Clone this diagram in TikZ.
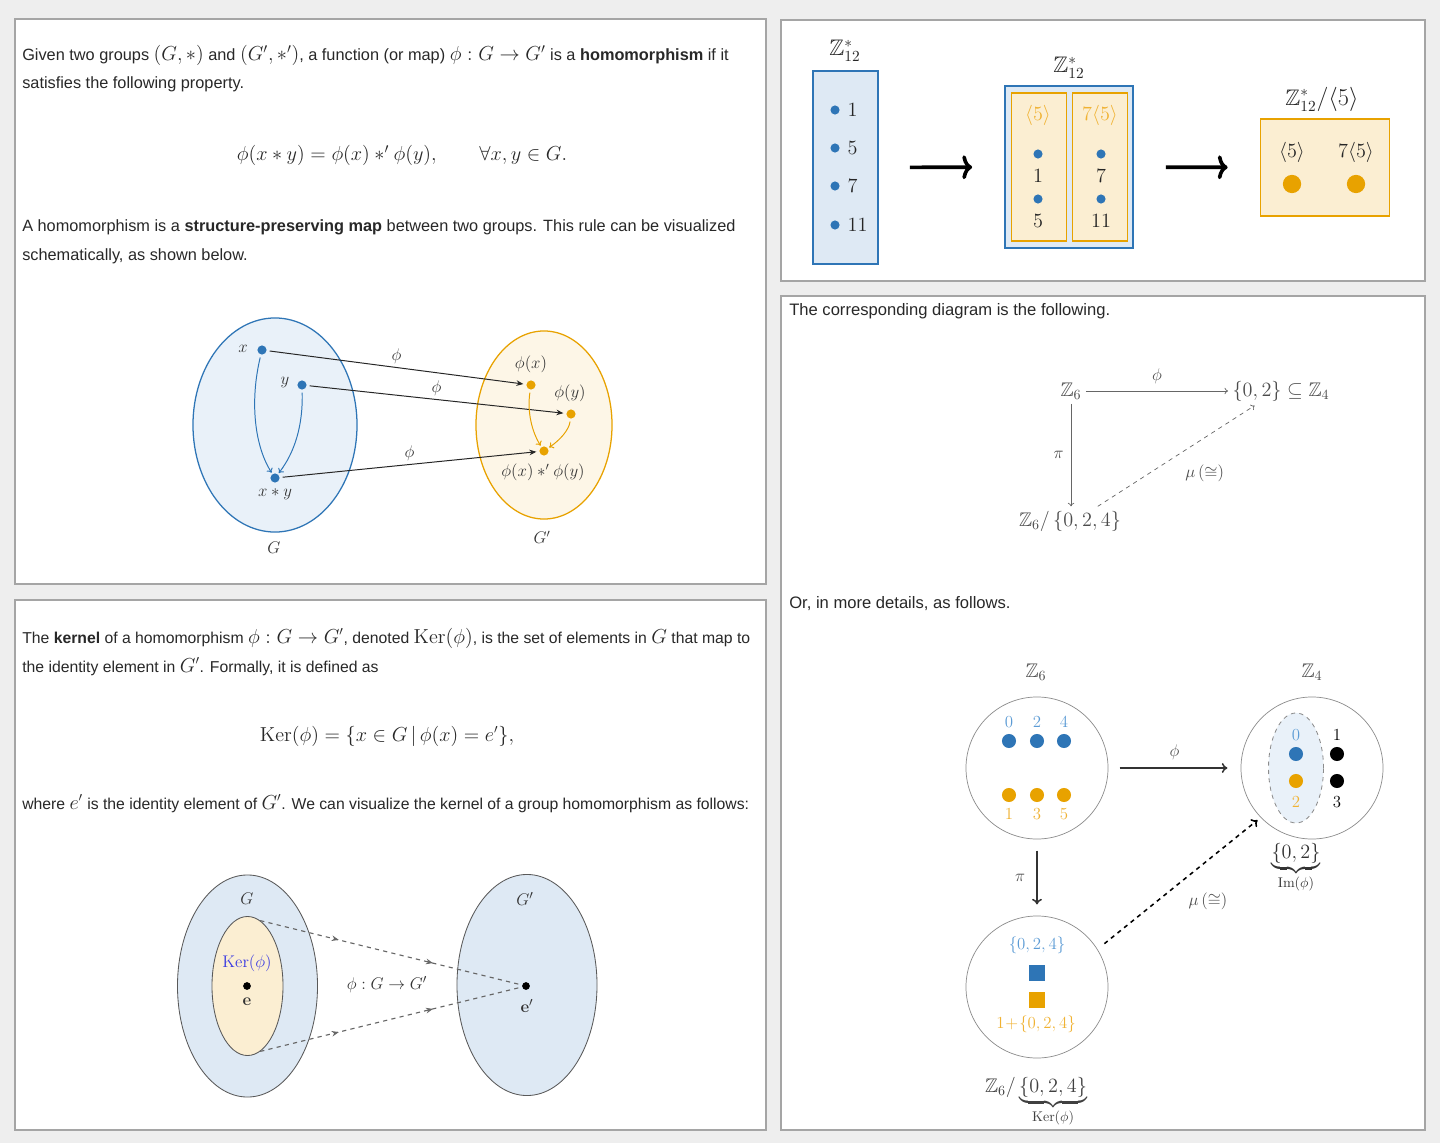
\documentclass[tikz,border=0pt]{standalone}
\usepackage{amsmath,amssymb}
\usepackage[no-math]{fontspec}
\setmainfont{Liberation Sans}
\usetikzlibrary{shapes.geometric, positioning, arrows.meta, calc, decorations.markings}

\definecolor{pageGray}{RGB}{238,238,238}
\definecolor{frameGray}{RGB}{165,165,165}
\definecolor{textGray}{RGB}{40,40,40}
\definecolor{grpBlue}{RGB}{46,117,182}
\definecolor{grpOrange}{RGB}{232,162,0}
\definecolor{lblBlue}{RGB}{91,155,213}
\definecolor{lblOrange}{RGB}{240,178,50}
\definecolor{fillBlue}{RGB}{222,233,244}
\definecolor{fillBlueLight}{RGB}{233,241,249}
\definecolor{fillOrange}{RGB}{251,238,210}
\definecolor{fillOrangeLight}{RGB}{253,246,231}
\definecolor{kerBlue}{RGB}{60,60,225}

% inline math a bit larger than the text, as on the page
\newcommand{\inmath}[1]{{\fontsize{13.8}{16}\selectfont$#1$}}
\newcommand{\inmathsm}[1]{{\fontsize{13.3}{16}\selectfont$#1$}}

\begin{document}
\begin{tikzpicture}[
        x=0.025cm, y=-0.025cm,
        panel/.style={draw=frameGray, line width=1pt, fill=white},
        txt/.style={anchor=base west, inner sep=0pt, text=textGray, font=\fontsize{11.6}{14}\selectfont},
        txtsm/.style={txt, font=\fontsize{11.2}{14}\selectfont},
        eqn/.style={anchor=base, inner sep=0pt, text=textGray, font=\fontsize{14}{16}\selectfont},
        lbl/.style={inner sep=1pt, text=black!80, font=\fontsize{11.5}{14}\selectfont},
        num/.style={inner sep=1pt, text=black!85, font=\fontsize{15}{18}\selectfont},
        cdtxt/.style={inner sep=3pt, text=black!70, font=\fontsize{14}{16}\selectfont},
        digit/.style={inner sep=2pt, font=\fontsize{12}{14}\selectfont},
        cdlbl/.style={inner sep=2pt, text=black!70, font=\fontsize{12.5}{14}\selectfont},
        element/.style={circle, fill=grpBlue, inner sep=0pt, minimum size=6.5pt},
        image/.style={circle, fill=grpOrange, inner sep=0pt, minimum size=6.5pt},
        blackdot/.style={circle, fill=black, inner sep=0pt, minimum size=5.5pt},
        group/.style={draw=black!45, line width=0.5pt, circle, minimum size=3.55cm, inner sep=0pt},
        map/.style={-{Stealth[length=5pt,width=4pt]}, black!85, line width=0.7pt, shorten <=2pt, shorten >=2pt},
        bluemap/.style={-{To[length=3pt,width=5pt]}, grpBlue, line width=0.7pt, shorten <=2pt, shorten >=1pt},
        orangemap/.style={-{To[length=3pt,width=5pt]}, grpOrange, line width=0.7pt, shorten <=2pt, shorten >=1pt},
        bigmap/.style={-{To[length=7pt,width=17pt]}, line width=2.6pt},
        cdmap/.style={-{To[length=2.5pt,width=4.5pt]}, black!60, line width=0.5pt},
        kermap/.style={dashed, black!60, line width=0.8pt, postaction={decorate},
            decoration={markings,
                mark=at position 0.3 with {\arrow{Stealth[length=5pt,width=4pt]}},
                mark=at position 0.66 with {\arrow{Stealth[length=5pt,width=4pt]}}}}
    ]
        % Page and panels
        \useasboundingbox (0,0) rectangle (1440,1143);
        \fill[pageGray] (0,0) rectangle (1440,1143);
        \draw[panel] (15,19) rectangle (766,584);
        \draw[panel] (15,600) rectangle (766,1130);
        \draw[panel] (781,20) rectangle (1425,281);
        \draw[panel] (781,296) rectangle (1425,1130);

        % Panel 1: text
        \node[txt] (p1a) at (22,61) {Given two groups \inmath{(G,*)} and \inmath{(G',*')}, a function (or map) \inmath{\phi : G \to G'} is a \textbf{homomorphism} if it};
        \node[txt] (p1b) at (22,89) {satisfies the following property.};
        \node[eqn] (p1eq) at (402,161) {$\phi(x * y) = \phi(x) *' \phi(y), \qquad \forall x, y \in G.$};
        \node[txt] (p1c) at (22,232) {A homomorphism is a \textbf{structure-preserving map} between two groups. This rule can be visualized};
        \node[txt] (p1d) at (22,261) {schematically, as shown below.};

        % Panel 1: groups
        \node[draw=grpBlue, line width=0.9pt, fill=fillBlueLight, ellipse, minimum width=4.1cm, minimum height=5.35cm] (G) at (275,425) {};
        \node[draw=grpOrange, line width=0.9pt, fill=fillOrangeLight, ellipse, minimum width=3.4cm, minimum height=4.7cm] (Gp) at (544,425) {};
        \node[lbl] (Glbl) at (274,548) {$G$};
        \node[lbl] (Gplbl) at (542,537) {$G'$};

        \node[element] (x) at (262,350) {};
        \node[element] (y) at (302,385) {};
        \node[element] (xy) at (275,478) {};
        \node[image] (fx) at (531,385) {};
        \node[image] (fy) at (571,414) {};
        \node[image] (fxy) at (544,451) {};
        \node[lbl] (xlbl) at (243,349) {$x$};
        \node[lbl] (ylbl) at (285,383) {$y$};
        \node[lbl] (xylbl) at (275,494) {$x * y$};
        \node[lbl] (fxlbl) at (531,364) {$\phi(x)$};
        \node[lbl] (fylbl) at (570,393) {$\phi(y)$};
        \node[lbl] (fxylbl) at (543,472) {$\phi(x) *' \phi(y)$};

        % Panel 1: maps
        \draw[map] (x) -- node[lbl, above=1pt] {$\phi$} (fx);
        \draw[map] (y) -- node[lbl, above=1pt] {$\phi$} (fy);
        \draw[map] (xy) -- node[lbl, above=1pt] {$\phi$} (fxy);
        \draw[bluemap] (x) .. controls (250,400) and (254,445) .. (xy);
        \draw[bluemap] (y) .. controls (303,425) and (295,452) .. (xy);
        \draw[orangemap] (fx) .. controls (527,412) and (532,432) .. (fxy);
        \draw[orangemap] (fy) .. controls (569,430) and (560,440) .. (fxy);

        % Panel 2: text
        \node[txtsm] (p2a) at (22,643) {The \textbf{kernel} of a homomorphism \inmathsm{\phi : G \to G'}, denoted \inmathsm{\mathrm{Ker}(\phi)}, is the set of elements in \inmathsm{G} that map to};
        \node[txtsm] (p2b) at (22,672) {the identity element in \inmathsm{G'}. Formally, it is defined as};
        \node[eqn, font=\fontsize{13.5}{16}\selectfont] (p2eq) at (387,741) {$\mathrm{Ker}(\phi) = \{x \in G \,|\, \phi(x) = e'\},$};
        \node[txtsm] (p2c) at (22,809) {where \inmathsm{e'} is the identity element of \inmathsm{G'}. We can visualize the kernel of a group homomorphism as follows:};

        % Panel 2: kernel
        \node[draw=black!65, line width=0.6pt, fill=fillBlue, ellipse, minimum width=3.5cm, minimum height=5.55cm] (kG) at (247.5,986) {};
        \node[draw=black!65, line width=0.6pt, fill=fillOrange, ellipse, minimum width=1.775cm, minimum height=3.475cm] (kK) at (247.5,986) {};
        \node[draw=black!65, line width=0.6pt, fill=fillBlue, ellipse, minimum width=3.5cm, minimum height=5.525cm] (kGp) at (527,985) {};
        \node[lbl, font=\fontsize{12.5}{15}\selectfont] (kGlbl) at (247,899) {$G$};
        \node[lbl, font=\fontsize{12.5}{15}\selectfont] (kGplbl) at (525,899) {$G'$};
        \node[lbl, text=kerBlue, font=\fontsize{12.5}{15}\selectfont] (kerlbl) at (247,963) {$\mathrm{Ker}(\phi)$};
        \node[blackdot] (e) at (247,986) {};
        \node[blackdot] (ep) at (526,986) {};
        \node[lbl, font=\fontsize{12.5}{15}\selectfont] (elbl) at (247,1002) {$\mathbf{e}$};
        \node[lbl, font=\fontsize{12.5}{15}\selectfont] (eplbl) at (527,1006) {$\mathbf{e}'$};
        \node[lbl, font=\fontsize{12.5}{15}\selectfont] (philbl) at (387,985) {$\phi : G \to G'$};
        \draw[kermap] (kK.79) -- (ep);
        \draw[kermap] (kK.-79) -- (ep);

        % Panel 3: cosets of <5>
        \node[num, font=\fontsize{16}{19}\selectfont] (zA) at (845,51) {$\mathbb{Z}_{12}^{*}$};
        \node[draw=grpBlue, line width=1.2pt, fill=fillBlue, minimum width=1.625cm, minimum height=4.825cm, inner sep=0pt] (boxA) at (845.5,167.5) {};
        \node[element] (a1) at (835,110) {};
        \node[element] (a5) at (835,148) {};
        \node[element] (a7) at (835,186) {};
        \node[element] (a11) at (835,225) {};
        \node[num, anchor=west] (n1) at (846,110) {$1$};
        \node[num, anchor=west] (n5) at (846,148) {$5$};
        \node[num, anchor=west] (n7) at (846,186) {$7$};
        \node[num, anchor=west] (n11) at (846,225) {$11$};

        \node[num, font=\fontsize{16}{19}\selectfont] (zB) at (1069,68) {$\mathbb{Z}_{12}^{*}$};
        \node[draw=grpBlue, line width=1.2pt, fill=fillBlue, minimum width=3.2cm, minimum height=4.05cm, inner sep=0pt] (boxB) at (1069,167) {};
        \node[draw=grpOrange, line width=1.2pt, fill=fillOrange, minimum width=1.375cm, minimum height=3.7cm, inner sep=0pt] (cosL) at (1039,167) {};
        \node[draw=grpOrange, line width=1.2pt, fill=fillOrange, minimum width=1.375cm, minimum height=3.7cm, inner sep=0pt] (cosR) at (1100,167) {};
        \node[num, text=lblOrange] (cLlbl) at (1038,115) {$\langle 5\rangle$};
        \node[num, text=lblOrange] (cRlbl) at (1100,115) {$7\langle 5\rangle$};
        \node[element] (b1) at (1038,154) {};
        \node[element] (b5) at (1038,199) {};
        \node[element] (b7) at (1101,154) {};
        \node[element] (b11) at (1101,199) {};
        \node[num] (m1) at (1038,176) {$1$};
        \node[num] (m5) at (1038,221) {$5$};
        \node[num] (m7) at (1101,176) {$7$};
        \node[num] (m11) at (1101,221) {$11$};

        \node[num, font=\fontsize{16}{19}\selectfont] (zQ) at (1322,99) {$\mathbb{Z}_{12}^{*}/\langle 5\rangle$};
        \node[draw=grpOrange, line width=1.2pt, fill=fillOrange, minimum width=3.225cm, minimum height=2.425cm, inner sep=0pt] (boxQ) at (1325,167.5) {};
        \node[num] (q5) at (1292,152) {$\langle 5\rangle$};
        \node[num] (q75) at (1356,152) {$7\langle 5\rangle$};
        \node[image, minimum size=13pt] (qd5) at (1292,184) {};
        \node[image, minimum size=13pt] (qd75) at (1356,184) {};

        \draw[bigmap, shorten <=0.775cm, shorten >=0.8cm] (boxA) -- (boxB);
        \draw[bigmap, shorten <=0.8cm, shorten >=0.8cm] (boxB) -- (boxQ);

        % Panel 4: text
        \node[txt, font=\fontsize{11.8}{14}\selectfont] (p4a) at (789,315) {The corresponding diagram is the following.};
        \node[txt, font=\fontsize{11.8}{14}\selectfont] (p4b) at (789,608) {Or, in more details, as follows.};

        % Panel 4: commutative diagram
        \node[cdtxt] (z6) at (1071,391) {$\mathbb{Z}_6$};
        \node[cdtxt] (img) at (1281,391) {$\{0,2\} \subseteq \mathbb{Z}_4$};
        \node[cdtxt] (quo) at (1070,521) {$\mathbb{Z}_6/\left\{0,2,4\right\}$};
        \draw[cdmap] (z6) -- node[cdlbl, above=3pt] {$\phi$} (img);
        \draw[cdmap] (z6.south) -- node[cdlbl, left=3pt] {$\pi$} (z6.south |- quo.north);
        \draw[cdmap, dashed] ($(quo.north)!0.5!(quo.north east)$) -- node[cdlbl, below right=6pt] {$\mu\,(\cong)$} ($(img.south west)!0.25!(img.south east)$);

        % Panel 4: detailed diagram
        \node[group] (c6) at (1037,768) {};
        \node[group] (c4) at (1312,768) {};
        \node[group] (cq) at (1037,987) {};
        \node[cdtxt] (t6) at (1036,672) {$\mathbb{Z}_6$};
        \node[cdtxt] (t4) at (1312,672) {$\mathbb{Z}_4$};

        \node[digit, text=lblBlue] (l0) at (1009,722) {$0$};
        \node[digit, text=lblBlue] (l2) at (1037,722) {$2$};
        \node[digit, text=lblBlue] (l4) at (1064,722) {$4$};
        \node[element, minimum size=10pt] (d0) at (1009,741) {};
        \node[element, minimum size=10pt] (d2) at (1037,741) {};
        \node[element, minimum size=10pt] (d4) at (1064,741) {};
        \node[image, minimum size=10pt] (d1) at (1009,795) {};
        \node[image, minimum size=10pt] (d3) at (1037,795) {};
        \node[image, minimum size=10pt] (d5) at (1064,795) {};
        \node[digit, text=lblOrange] (l1) at (1009,814) {$1$};
        \node[digit, text=lblOrange] (l3) at (1037,814) {$3$};
        \node[digit, text=lblOrange] (l5) at (1064,814) {$5$};

        \node[draw=black!45, dashed, line width=0.6pt, fill=fillBlueLight, ellipse, minimum width=1.375cm, minimum height=2.75cm] (imset) at (1296,768) {};
        \node[digit, text=lblBlue] (m0) at (1296,735) {$0$};
        \node[element, minimum size=10pt] (e0) at (1296,754) {};
        \node[image, minimum size=10pt] (e2) at (1296,781) {};
        \node[digit, text=lblOrange] (m2) at (1296,802) {$2$};
        \node[digit, text=black] (m1) at (1337,735) {$1$};
        \node[blackdot, minimum size=10pt] (e1) at (1337,754) {};
        \node[blackdot, minimum size=10pt] (e3) at (1337,781) {};
        \node[digit, text=black] (m3) at (1337,802) {$3$};
        \node[cdtxt, text=black!80, anchor=base] (imlbl) at (1296,858) {$\underbrace{\{0,2\}}_{\mathrm{Im}(\phi)}$};

        \node[cdtxt, font=\fontsize{13}{15}\selectfont, text=lblBlue] (kset) at (1037,945) {$\{0,2,4\}$};
        \node[fill=grpBlue, minimum size=12pt, inner sep=0pt] (sq0) at (1037,973) {};
        \node[fill=grpOrange, minimum size=12pt, inner sep=0pt] (sq1) at (1037,1000) {};
        \node[cdtxt, font=\fontsize{13}{15}\selectfont, text=lblOrange] (kset1) at (1036,1024) {$1\!+\!\{0,2,4\}$};
        \node[cdtxt, text=black!75, anchor=base] (qlbl) at (1036,1092) {$\mathbb{Z}_6/\underbrace{\{0,2,4\}}_{\mathrm{Ker}(\phi)}$};

        \draw[-{To[length=4pt,width=7pt]}, black!80, line width=1.1pt, shorten <=0.28cm, shorten >=0.33cm] (c6) -- node[cdlbl, above=3pt] {$\phi$} (c4);
        \draw[-{To[length=4pt,width=7pt]}, black!80, line width=1.1pt, shorten <=0.28cm, shorten >=0.28cm] (c6) -- node[cdlbl, left=6pt] {$\pi$} (cq);
        \draw[-{To[length=4pt,width=7pt]}, black, dashed, line width=1.1pt, shorten <=0.22cm, shorten >=0.1cm] (cq.32) -- node[cdlbl, below right=6pt] {$\mu\,(\cong)$} (c4.224);
    \end{tikzpicture}
\end{document}
